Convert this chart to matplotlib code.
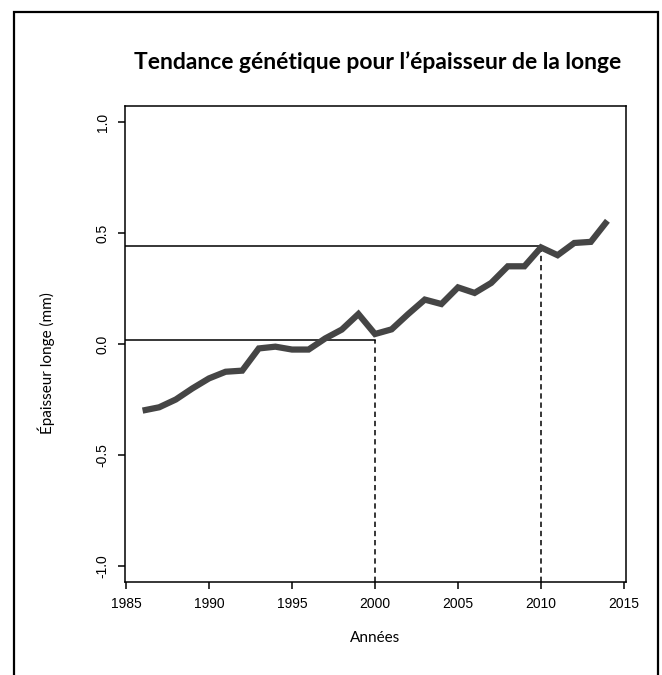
import matplotlib
matplotlib.use("Agg")
import matplotlib.pyplot as plt
from matplotlib.patches import Rectangle

# values
annees = [1986, 1987, 1988, 1989, 1990, 1991, 1992, 1993, 1994, 1995,
          1996, 1997, 1998, 1999, 2000, 2001, 2002, 2003, 2004, 2005,
          2006, 2007, 2008, 2009, 2010, 2011, 2012, 2013, 2014]
epaisseur = [-0.30, -0.285, -0.25, -0.20, -0.155, -0.125, -0.12, -0.02, -0.012, -0.025,
             -0.025, 0.025, 0.065, 0.135, 0.045, 0.066, 0.135, 0.20, 0.18, 0.255,
             0.23, 0.275, 0.35, 0.35, 0.435, 0.40, 0.455, 0.46, 0.555]

# reference lines (year, value)
repere_annees = [2000, 2010]
repere_valeurs = [0.018, 0.44]

x_ticks = [1985, 1990, 1995, 2000, 2005, 2010, 2015]
y_ticks = [-1.0, -0.5, 0.0, 0.5, 1.0]
y_labels = ["-1.0", "-0.5", "0.0", "0.5", "1.0"]

fig = plt.figure(figsize=(6.62, 6.75), dpi=100)
ax = fig.add_axes([125 / 662, 1 - 582 / 675, 501 / 662, 476 / 675])

xlim = (1984.94, 2015.12)
ylim = (-1.072, 1.072)
ax.set_xlim(*xlim)
ax.set_ylim(*ylim)

# the genetic trend
ax.plot(annees, epaisseur, color="#454545", linewidth=4.5, solid_joinstyle="miter",
        solid_capstyle="butt", zorder=3)

# horizontal and dashed vertical guides
for an, val in zip(repere_annees, repere_valeurs):
    ax.plot([xlim[0], an], [val, val], color="black", linewidth=1.1, zorder=2)
    ax.plot([an, an], [ylim[0], val], color="black", linewidth=1.1,
            linestyle=(0, (3.5, 2.5)), zorder=2)

# R-like axes
for s in ax.spines.values():
    s.set_linewidth(1.1)
ax.set_xticks(x_ticks)
ax.set_xticklabels([str(v) for v in x_ticks], fontfamily="Liberation Sans", fontsize=10)
ax.set_yticks(y_ticks)
ax.set_yticklabels(y_labels, fontfamily="Liberation Sans", fontsize=10,
                   rotation=90, va="center")
ax.tick_params(direction="out", length=5, width=1.1, pad=6)

ax.set_xlabel("Années", fontfamily="Lato", fontsize=11, labelpad=14)
ax.set_ylabel("Épaisseur longe (mm)", fontfamily="Lato", fontsize=11)
ax.yaxis.set_label_coords(-0.14, 0.46)

fig.text(378 / 662, 1 - 62 / 675, "Tendance génétique pour l\u2019épaisseur de la longe",
         fontfamily="Lato", fontweight="bold", fontsize=16.5, ha="center", va="center")

# outer frame
fig.patches.append(Rectangle((14 / 662, -0.02), 644 / 662, 1 - 12 / 675 + 0.02,
                             transform=fig.transFigure, fill=False,
                             edgecolor="black", linewidth=1.6))

fig.savefig("out.png", dpi=100)
